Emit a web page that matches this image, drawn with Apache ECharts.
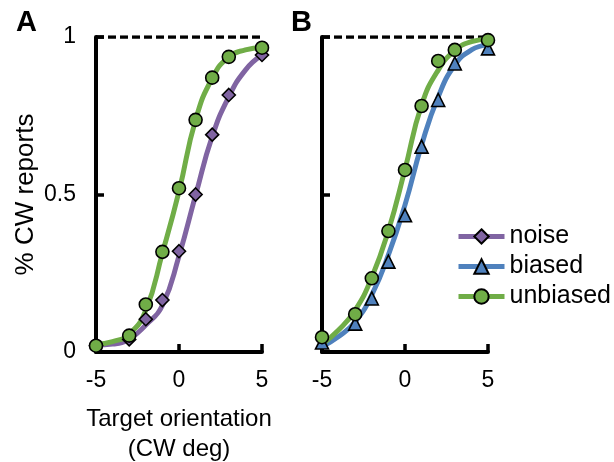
<!DOCTYPE html>
<html><head><meta charset="utf-8">
<script src="https://cdn.jsdelivr.net/npm/echarts@6/dist/echarts.min.js"></script>
<style>html,body{margin:0;padding:0;background:#fff}#c{width:614px;height:462px}</style>
</head><body><div id="c"></div>
<script>
// ---- data ----
const markerX = [-5, -3, -2, -1, 0, 1, 2, 3, 5];
const noiseA     = [0.02, 0.04, 0.104, 0.165, 0.32, 0.50, 0.69, 0.816, 0.943];
const unbiasedA  = [0.02, 0.052, 0.151, 0.318, 0.52, 0.737, 0.871, 0.937, 0.966];
const biasedB    = [0.03, 0.09, 0.17, 0.287, 0.434, 0.652, 0.80, 0.916, 0.964];
const unbiasedB  = [0.047, 0.12, 0.234, 0.384, 0.578, 0.781, 0.924, 0.959, 0.99];

const curveX = [-5, -4, -3, -2, -1, 0, 1, 2, 3, 4, 5];
const noiseCurveA    = [0.022, 0.025, 0.041, 0.086, 0.148, 0.305, 0.498, 0.684, 0.81, 0.895, 0.943];
const unbiasedCurveA = [0.025, 0.033, 0.057, 0.133, 0.314, 0.51, 0.737, 0.869, 0.937, 0.959, 0.967];
const biasedCurveB   = [0.017, 0.049, 0.096, 0.181, 0.308, 0.467, 0.657, 0.81, 0.911, 0.959, 0.975];
const unbiasedCurveB = [0.025, 0.07, 0.133, 0.237, 0.385, 0.58, 0.784, 0.895, 0.957, 0.985, 0.993];

const refX = [-5, 5];
const refY = [1, 1];

const xTicks = [-5, 0, 5];
const seriesNames = ['noise', 'biased', 'unbiased'];
const panelLabels = ['A', 'B'];
const xTitle = 'Target orientation\n(CW deg)';
const yTitle = '% CW reports';

// ---- styles ----
const FONT = 'Liberation Sans, Arial, sans-serif';
const C = { noise: '#8064A2', biased: '#4F81BD', unbiased: '#70AD47' };
const pair = (xs, ys) => xs.map((x, i) => [x, ys[i]]);

function xAxis(idx, withName) {
  return {
    type: 'value', gridIndex: idx, min: xTicks[0], max: xTicks[xTicks.length - 1], interval: 5,
    axisLine: { show: true, onZero: false, lineStyle: { color: '#000', width: 4 } },
    axisTick: { show: true, inside: true, length: 8, lineStyle: { color: '#000', width: 3.5 } },
    splitLine: { show: false },
    axisLabel: { color: '#000', fontSize: 23, fontFamily: FONT, margin: 17 },
    name: withName ? xTitle : '', nameLocation: 'middle', nameGap: 52,
    nameTextStyle: { color: '#000', fontSize: 24, fontFamily: FONT, lineHeight: 30 }
  };
}
function yAxis(idx, withLabels) {
  return {
    type: 'value', gridIndex: idx, min: 0, max: 1, interval: 0.5,
    axisLine: { show: true, onZero: false, lineStyle: { color: '#000', width: 4 } },
    axisTick: { show: true, inside: true, length: 8, lineStyle: { color: '#000', width: 3.5 } },
    splitLine: { show: false },
    axisLabel: { show: withLabels, color: '#000', fontSize: 23, fontFamily: FONT, margin: 20 },
    name: withLabels ? yTitle : '', nameLocation: 'middle', nameGap: 57, nameRotate: 90,
    nameTextStyle: { color: '#000', fontSize: 26, fontFamily: FONT }
  };
}
function curve(name, xi, xs, ys, color, symbol, z) {
  return {
    name: name, type: 'line', xAxisIndex: xi, yAxisIndex: xi,
    data: pair(xs, ys), smooth: 0.5,
    showSymbol: false, symbol: symbol, symbolSize: 13,
    lineStyle: { color: color, width: 5 },
    itemStyle: { color: color, borderColor: '#000', borderWidth: 1.6 },
    emphasis: { disabled: true },
    z: z, silent: true
  };
}
function markers(name, xi, ys, color, symbol, z) {
  return {
    name: name, type: 'scatter', xAxisIndex: xi, yAxisIndex: xi,
    data: pair(markerX, ys), symbol: symbol, symbolSize: 13,
    itemStyle: { color: color, borderColor: '#000', borderWidth: 1.6, opacity: 1 },
    z: z, silent: true
  };
}
function refLine(xi) {
  return {
    type: 'line', xAxisIndex: xi, yAxisIndex: xi, data: pair(refX, refY),
    showSymbol: false, symbol: 'none',
    lineStyle: { color: '#000', width: 3.5, type: [8, 4] }, z: 3, silent: true
  };
}

const chart = echarts.init(document.getElementById('c'), null, { renderer: 'canvas' });
chart.setOption({
  animation: false,
  backgroundColor: '#fff',
  grid: [
    { left: 96, top: 37, width: 166, height: 315, outerBoundsMode: 'none', containLabel: false },
    { left: 322, top: 37, width: 166, height: 315, outerBoundsMode: 'none', containLabel: false }
  ],
  xAxis: [xAxis(0, true), xAxis(1, false)],
  yAxis: [yAxis(0, true), yAxis(1, false)],
  legend: {
    data: seriesNames, orient: 'vertical', left: 456, top: 224, padding: 0,
    itemWidth: 46, itemHeight: 18, itemGap: 5,
    lineStyle: { width: 5 },
    itemStyle: { borderColor: '#000', borderWidth: 2 },
    textStyle: { color: '#000', fontSize: 25, fontFamily: FONT },
    selectedMode: false
  },
  graphic: [
    { type: 'text', left: 16, top: 8, style: { text: panelLabels[0], fontSize: 29, fontWeight: 'bold', fontFamily: FONT, fill: '#000' } },
    { type: 'text', left: 291, top: 8, style: { text: panelLabels[1], fontSize: 29, fontWeight: 'bold', fontFamily: FONT, fill: '#000' } }
  ],
  series: [
    refLine(0), refLine(1),
    curve('noise', 0, curveX, noiseCurveA, C.noise, 'diamond', 4),
    curve('unbiased', 0, curveX, unbiasedCurveA, C.unbiased, 'circle', 5),
    curve('biased', 1, curveX, biasedCurveB, C.biased, 'triangle', 4),
    curve('unbiased', 1, curveX, unbiasedCurveB, C.unbiased, 'circle', 5),
    markers('noise pts', 0, noiseA, C.noise, 'diamond', 6),
    markers('unbiased pts A', 0, unbiasedA, C.unbiased, 'circle', 7),
    markers('biased pts', 1, biasedB, C.biased, 'triangle', 6),
    markers('unbiased pts B', 1, unbiasedB, C.unbiased, 'circle', 7)
  ]
});
</script></body></html>
